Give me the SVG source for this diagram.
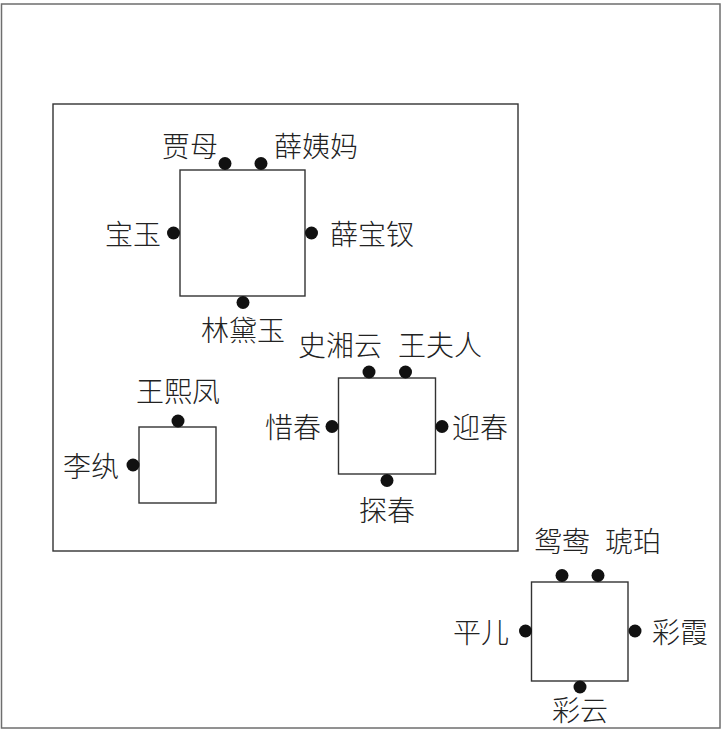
<svg xmlns="http://www.w3.org/2000/svg" width="723" height="731" viewBox="0 0 723 731">
<style>
.frame{fill:none;stroke:#6e6e6e;stroke-width:1.5}
.inner{fill:none;stroke:#333;stroke-width:1.4}
.box{fill:#fff;stroke:#333;stroke-width:1.4}
.dot{fill:#111}
text{font-family:"Noto Sans CJK SC","Noto Sans CJK JP",sans-serif;font-size:28px;font-weight:300;fill:#222;text-anchor:middle}
</style>
<rect x="0" y="0" width="723" height="731" fill="#fff"/>
<rect id="outer" class="frame" x="1.5" y="4" width="718.5" height="724"/>
<rect id="inner" class="inner" x="53" y="104" width="465" height="447"/>
<g id="connectors"></g>
<g id="node-a">
  <rect class="box" x="180" y="170" width="125" height="126"/>
  <circle class="dot" cx="225" cy="163.5" r="6.5"/>
  <circle class="dot" cx="261" cy="163.5" r="6.5"/>
  <circle class="dot" cx="173.5" cy="233" r="6.5"/>
  <circle class="dot" cx="311.5" cy="233" r="6.5"/>
  <circle class="dot" cx="243" cy="302.5" r="6.5"/>
  <text x="190" y="156.5">贾母</text>
  <text x="316" y="156.5">薛姨妈</text>
  <text x="133" y="244.5">宝玉</text>
  <text x="372" y="244.5">薛宝钗</text>
  <text x="243" y="340.5">林黛玉</text>
</g>
<g id="node-b">
  <rect class="box" x="139" y="427" width="77" height="76"/>
  <circle class="dot" cx="178" cy="421" r="6.5"/>
  <circle class="dot" cx="133" cy="465" r="6.5"/>
  <text x="178" y="401.5">王熙凤</text>
  <text x="91" y="476.5">李纨</text>
</g>
<g id="node-c">
  <rect class="box" x="338.5" y="378" width="97" height="96"/>
  <circle class="dot" cx="369" cy="372" r="6.5"/>
  <circle class="dot" cx="405.5" cy="372" r="6.5"/>
  <circle class="dot" cx="332" cy="426.5" r="6.5"/>
  <circle class="dot" cx="442" cy="426.5" r="6.5"/>
  <circle class="dot" cx="387" cy="480.5" r="6.5"/>
  <text x="340" y="355.5">史湘云</text>
  <text x="440" y="355.5">王夫人</text>
  <text x="293" y="437.5">惜春</text>
  <text x="480" y="437.5">迎春</text>
  <text x="387" y="520.5">探春</text>
</g>
<g id="node-d">
  <rect class="box" x="531.5" y="582" width="96.5" height="99"/>
  <circle class="dot" cx="562" cy="575.5" r="6.5"/>
  <circle class="dot" cx="598" cy="575.5" r="6.5"/>
  <circle class="dot" cx="525.5" cy="631" r="6.5"/>
  <circle class="dot" cx="635" cy="631" r="6.5"/>
  <circle class="dot" cx="580" cy="687" r="6.5"/>
  <text x="562" y="551.5">鸳鸯</text>
  <text x="633" y="551.5">琥珀</text>
  <text x="481" y="642.5">平儿</text>
  <text x="680" y="642.5">彩霞</text>
  <text x="580" y="720.5">彩云</text>
</g>
</svg>
